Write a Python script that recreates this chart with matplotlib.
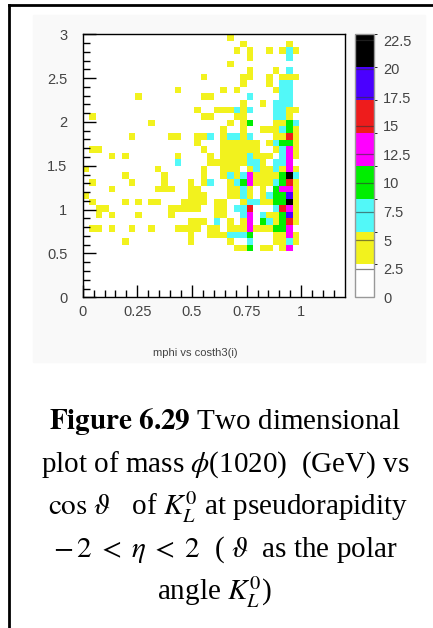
import matplotlib
matplotlib.use("Agg")
import matplotlib.pyplot as plt
import numpy as np
from matplotlib.colors import ListedColormap, BoundaryNorm
from matplotlib.patches import Rectangle
from matplotlib.lines import Line2D

W, H = 433, 628

# 2D histogram, one string per y bin (top row = y 2.925-3.0),
# one char per x bin of width 0.03 starting at x=0; letter = colour level of the cell
ROWS = [
    "......................y..........",
    "........................y......y.",
    ".......................y.y..y.ycy",
    ".........................y.....c.",
    "......................y..........",
    ".........................y...y.c.",
    "..................y.....yy..y.yyy",
    "........................y...y.cc.",
    "..............y......y.y.....ycc.",
    "........y.........yy.....c....cc.",
    "........................y..y.ccc.",
    ".................y..yyycyc...ccyy",
    ".y................yy...yy....ccy.",
    "..........y...........y.yg...yygc",
    ".....................y..y..yyycgy",
    ".......y.....yy..yyc.yccyc...yyry",
    ".................y...yyyyyy.ycggy",
    ".yy...............y..yyyyyy..ycmy",
    "....y.y.......y....y.yyyycyyy.cmy",
    "..............c....yyyyyyccy.ccm.",
    "y..........y......y..yyy.ycyycymy",
    "......y.....y.....y..ycycmyyyygkc",
    ".y.....y....y...y.yc..ycgmyyycgry",
    "....y......yyy..yy....yycy.y.gmmy",
    "y...............yyy...yycy.ycggby",
    ".y....y.y.yy...yyyy.yy..yccyyggky",
    "..yy.........yyyyy..yy.ccr...crmy",
    "..y.y...y....y......yy..cm.cyygby",
    "................yyy.c.y.ym.gcygry",
    ".yy.y..y..y...yyyy.yy.yyymyyyggm.",
    "................y..yyycccg...yymy",
    "......y.........y.....y..c...yycy",
    ".......................yyg.yy.ym.",
]
LEVEL_COUNTS = {"y": 4, "c": 7, "g": 10, "m": 13, "r": 16, "b": 19, "k": 22}

N_BINS = 40
X_RANGE = (0.0, 1.2)
Y_RANGE = (0.0, 3.0)

PALETTE = ["#ffffff", "#f2f21e", "#52f8f8", "#00ee00", "#ff00ff", "#ee1c1c", "#4a00ff", "#000000"]
LEVELS = np.linspace(0, 23, 9)
CBAR_TICKS = [0, 2.5, 5, 7.5, 10, 12.5, 15, 17.5, 20, 22.5]
CBAR_LABELS = ["0", "2.5", "5", "7.5", "10", "12.5", "15", "17.5", "20", "22.5"]

X_TICKS = [0, 0.25, 0.5, 0.75, 1]
X_LABELS = ["0", "0.25", "0.5", "0.75", "1"]
Y_TICKS = [0, 0.5, 1, 1.5, 2, 2.5, 3]
Y_LABELS = ["0", "0.5", "1", "1.5", "2", "2.5", "3"]

TITLE = "mphi vs costh3(i)"
CAPTION = [
    (r"$\mathbf{Figure\ 6.29}$ Two dimensional", 225.5, 429),
    (r"plot of mass $\phi$(1020)  (GeV) vs", 225.5, 471.7),
    (r"$\cos\,\vartheta$   of $K_L^0$ at pseudorapidity", 227.5, 515),
    (r"$-\,2\;<\;\eta\;<\;2$  ( $\vartheta$  as the polar", 225.5, 556.7),
    (r"angle $K_L^0$)", 214, 600),
]

dx = (X_RANGE[1] - X_RANGE[0]) / N_BINS
dy = (Y_RANGE[1] - Y_RANGE[0]) / N_BINS
xs, ys, ws = [], [], []
for j, row in enumerate(ROWS):
    for i, ch in enumerate(row):
        if ch != ".":
            xs.append(X_RANGE[0] + (i + 0.5) * dx)
            ys.append(Y_RANGE[1] - (j + 0.5) * dy)
            ws.append(LEVEL_COUNTS[ch])


def box(x0, y0, x1, y1):
    # pixel box (top-left origin) -> figure fraction rect
    return [x0 / W, 1 - y1 / H, (x1 - x0) / W, (y1 - y0) / H]


plt.rcParams["mathtext.fontset"] = "stix"
fig = plt.figure(figsize=(W / 100, H / 100), dpi=100)

# faint canvas behind the plot and the page border
fig.patches.append(Rectangle((33 / W, 1 - 362 / H), (425 - 33) / W, (362 - 15) / H,
                             transform=fig.transFigure, color="#f9f9f9", zorder=-5))
fig.add_artist(Line2D([9 / W, 9 / W], [0, 1 - 5 / H], color="black", lw=2))
fig.add_artist(Line2D([9 / W, 1], [1 - 5 / H, 1 - 5 / H], color="black", lw=2))

ax = fig.add_axes(box(82.7, 34.3, 345, 297.3))
ax.set_facecolor("white")
cmap = ListedColormap(PALETTE)
norm = BoundaryNorm(LEVELS, cmap.N)
counts, xe, ye, mesh = ax.hist2d(xs, ys, bins=N_BINS, range=[X_RANGE, Y_RANGE],
                                 weights=ws, cmap=cmap, norm=norm)
ax.set_xlim(*X_RANGE)
ax.set_ylim(*Y_RANGE)

tick_font = dict(family="Liberation Sans", size=10.5, color="#444444")
ax.set_xticks(X_TICKS, X_LABELS, **tick_font)
ax.set_yticks(Y_TICKS, Y_LABELS, **tick_font)
ax.set_xticks(np.arange(0, 1.2, 0.05), minor=True)
ax.set_yticks(np.arange(0, 3.0, 0.1), minor=True)
ax.tick_params(which="both", direction="in", top=False, right=False, color="black", width=1)
ax.tick_params(which="major", length=9)
ax.tick_params(which="minor", length=5)
ax.tick_params(axis="x", pad=5.5)
ax.tick_params(axis="y", pad=11)
for s in ax.spines.values():
    s.set_linewidth(1)

cax = fig.add_axes(box(355.3, 34.3, 374, 297.3))
cb = fig.colorbar(mesh, cax=cax, ticks=CBAR_TICKS)
cb.ax.set_yticklabels(CBAR_LABELS, **tick_font)
cb.outline.set_edgecolor("#999999")
cb.outline.set_linewidth(1)
cax.tick_params(length=0, pad=6.5)
for t in CBAR_TICKS[1:]:
    cax.axhline(t, color="#333333", lw=0.9, alpha=0.6)

fig.text(195 / W, 1 - 352.7 / H, TITLE, ha="center", va="center",
         family="Liberation Sans", size=8, color="#444444")

for txt, xc, yb in CAPTION:
    fig.text(xc / W, 1 - yb / H, txt, ha="center", va="baseline",
             family="Liberation Serif", size=21, color="black")

fig.savefig("out.png", dpi=100, facecolor="white")
